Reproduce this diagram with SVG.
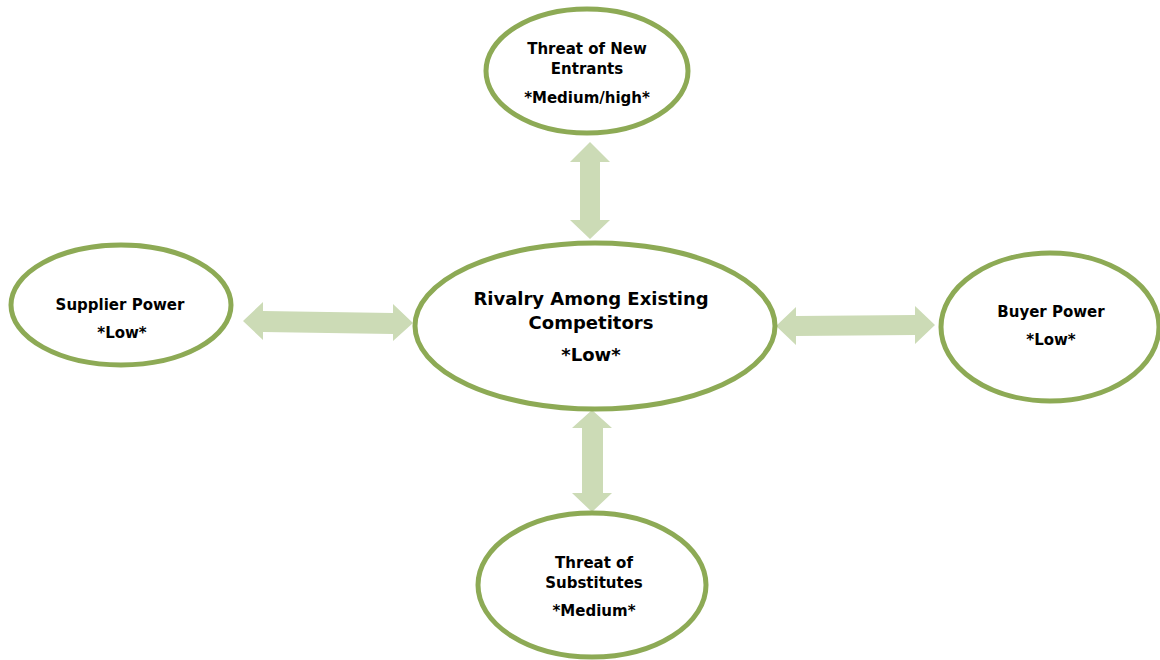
<svg xmlns="http://www.w3.org/2000/svg" width="1160" height="660" viewBox="0 0 1160 660">
  <style>
    .node { fill: #ffffff; stroke: #8DAA55; stroke-width: 5; }
    .arrow { fill: #CCDBB6; stroke: none; }
    .lbl { font-family: "DejaVu Sans", "Liberation Sans", sans-serif; font-weight: bold; fill: #000000; text-anchor: middle; }
    .sm { font-size: 15px; }
    .lg { font-size: 18px; }
  </style>
  <rect width="1160" height="660" fill="#ffffff"/>

  <!-- double-headed block arrows -->
  <g id="connectors">
    <!-- top: new entrants <-> rivalry -->
    <polygon class="arrow" points="590,142 610,162 600,162 600,220 610,220 590,239 570,220 580,220 580,162 570,162"/>
    <!-- bottom: rivalry <-> substitutes -->
    <polygon class="arrow" points="592,410 612,428 603,428 603,493 612,493 592,512 572,493 582,493 582,428 572,428"/>
    <!-- left: supplier <-> rivalry -->
    <polygon class="arrow" points="243,321 263,302 263,311 393,313 393,304 413,323 393,341 393,334 263,332 263,340"/>
    <!-- right: rivalry <-> buyer -->
    <polygon class="arrow" points="776,326 796,307 796,316 915,315 915,306 935,325 915,344 915,335 796,336 796,345"/>
  </g>

  <g id="node-new-entrants">
    <ellipse class="node" cx="587" cy="71" rx="101" ry="62"/>
    <text class="lbl sm" x="587" y="54">Threat of New</text>
    <text class="lbl sm" x="587" y="74">Entrants</text>
    <text class="lbl sm" x="587" y="103">*Medium/high*</text>
  </g>

  <g id="node-rivalry">
    <ellipse class="node" cx="595" cy="326" rx="180" ry="83"/>
    <text class="lbl lg" x="591" y="305">Rivalry Among Existing</text>
    <text class="lbl lg" x="591" y="329">Competitors</text>
    <text class="lbl lg" x="591" y="361">*Low*</text>
  </g>

  <g id="node-supplier">
    <ellipse class="node" cx="121" cy="305" rx="110" ry="60"/>
    <text class="lbl sm" x="120" y="310">Supplier Power</text>
    <text class="lbl sm" x="122" y="338">*Low*</text>
  </g>

  <g id="node-buyer">
    <ellipse class="node" cx="1050" cy="327" rx="109" ry="74"/>
    <text class="lbl sm" x="1051" y="317">Buyer Power</text>
    <text class="lbl sm" x="1051" y="345">*Low*</text>
  </g>

  <g id="node-substitutes">
    <ellipse class="node" cx="592" cy="585" rx="114" ry="72"/>
    <text class="lbl sm" x="594" y="568">Threat of</text>
    <text class="lbl sm" x="594" y="588">Substitutes</text>
    <text class="lbl sm" x="594" y="616">*Medium*</text>
  </g>
</svg>
